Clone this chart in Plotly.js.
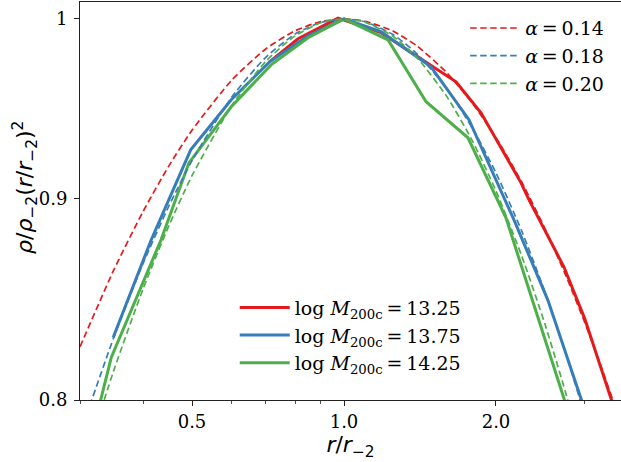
<!DOCTYPE html>
<html>
<head>
<meta charset="utf-8">
<script src="https://cdn.plot.ly/plotly-3.0.1.min.js"></script>
<style>html,body{margin:0;padding:0;background:#fff;}#chart{width:621px;height:462px;}</style>
</head>
<body>
<div id="chart"></div>
<script>
// Einasto reference curves (dashed)
const rFit = [0.30,0.35,0.40,0.45,0.50,0.60,0.70,0.80,0.90,1.0,1.1,1.25,1.4,1.6,1.8,2.0,2.25,2.5,2.75,3.0,3.25,3.5];
const fitA014 = [0.8253,0.8633,0.8934,0.9176,0.9369,0.9650,0.9826,0.9931,0.9985,1.0,0.9987,0.9930,0.9840,0.9689,0.9515,0.9329,0.9088,0.8845,0.8605,0.8370,0.8141,0.7920];
const fitA018 = [0.7842,0.8299,0.8666,0.8963,0.9204,0.9555,0.9778,0.9912,0.9980,1.0,0.9984,0.9910,0.9794,0.9599,0.9376,0.9138,0.8831,0.8523,0.8221,0.7927];
const fitA020 = [0.7650,0.8140,0.8538,0.8860,0.9123,0.9508,0.9755,0.9902,0.9978,1.0,0.9982,0.9899,0.9771,0.9554,0.9306,0.9042,0.8703,0.8364,0.8032,0.7710];

// Measured profiles (solid)
const rM1325 = [0.712,0.811,0.973,1.184,1.667,1.868,2.242,2.325,2.727,3.0,3.379,3.45];
const vM1325 = [0.9752,0.9885,1.0005,0.9920,0.9639,0.9465,0.9085,0.8995,0.8648,0.8388,0.8007,0.7950];
const rM1375 = [0.349,0.415,0.497,0.598,0.712,0.849,1.0,1.184,1.487,1.768,2.171,2.535,2.947,3.0];
const vM1375 = [0.8298,0.8786,0.9262,0.9538,0.9752,0.9902,1.0,0.9926,0.9724,0.9427,0.8890,0.8481,0.8007,0.7950];
const rM1425 = [0.322,0.346,0.434,0.493,0.598,0.717,0.849,1.0,1.222,1.454,1.760,2.093,2.727,2.78];
const vM1425 = [0.7904,0.8202,0.8786,0.9192,0.9499,0.9735,0.9891,1.0,0.9879,0.9527,0.9328,0.8901,0.8007,0.7950];

const fitNames = ['<i>α</i>\u2009=\u20090.14','<i>α</i>\u2009=\u20090.18','<i>α</i>\u2009=\u20090.20'];
const massNames = ['log <i>M</i><sub>200c</sub>\u2009=\u200913.25','log <i>M</i><sub>200c</sub>\u2009=\u200913.75','log <i>M</i><sub>200c</sub>\u2009=\u200914.25'];
const colors = ['#e41a1c','#377eb8','#4daf4a'];

const xTickVals = [0.5,1.0,2.0];
const xTickText = ['0.5','1.0','2.0'];
const xMinorVals = [0.3,0.4,0.6,0.7,0.8,0.9,3.0];
const yTickVals = [0.8,0.9,1.0];
const yTickText = ['0.8','0.9','1'];

const solidR = [rM1325,rM1375,rM1425];
const solidV = [vM1325,vM1375,vM1425];
const fitV = [fitA014,fitA018,fitA020];

const traces = [];
for (let i=0;i<3;i++){
  traces.push({x:solidR[i], y:solidV[i], type:'scatter', mode:'lines', name:massNames[i],
    line:{color:colors[i], width:3}, legend:'legend2'});
}
for (let i=0;i<3;i++){
  traces.push({x:rFit.slice(0,fitV[i].length), y:fitV[i], type:'scatter', mode:'lines', name:fitNames[i],
    line:{color:colors[i], width:1.7, dash:'6.5px,3.5px', shape:'spline', smoothing:0.6}, legend:'legend'});
}

const serif = 'DejaVu Serif, serif';
const layout = {
  width:621, height:462,
  margin:{l:80, r:0, t:2, b:62},
  paper_bgcolor:'#fff', plot_bgcolor:'#fff',
  showlegend:true,
  xaxis:{type:'log', range:[Math.log10(0.3), Math.log10(3.537)],
    tickmode:'array', tickvals:xTickVals, ticktext:xTickText,
    ticks:'outside', ticklen:5, tickwidth:1, tickcolor:'#222',
    minor:{tickmode:'array', tickvals:xMinorVals, ticks:'outside', ticklen:3, tickwidth:0.8, tickcolor:'#222', showgrid:false},
    showgrid:false, zeroline:false, showline:true, linecolor:'#222', linewidth:1, mirror:true,
    tickfont:{family:serif, size:18, color:'#000'},
    title:{text:'<i>r</i>/<i>r</i><sub>−2</sub>', font:{family:'DejaVu Sans, sans-serif', size:22, color:'#000'}, standoff:6}
  },
  yaxis:{type:'log', range:[Math.log10(0.8), Math.log10(1.01)],
    tickmode:'array', tickvals:yTickVals, ticktext:yTickText,
    ticks:'outside', ticklen:5, tickwidth:1, tickcolor:'#222', ticklabelstandoff:3,
    showgrid:false, zeroline:false, showline:true, linecolor:'#222', linewidth:1, mirror:false,
    tickfont:{family:serif, size:18, color:'#000'}
  },
  annotations:[{xref:'paper', yref:'paper', x:-0.102, y:0.535, xanchor:'center', yanchor:'middle',
    textangle:-90, showarrow:false,
    text:'<i>ρ</i>/<i>ρ</i><sub>−2</sub>(<i>r</i>/<i>r</i><sub>−2</sub>)<sup>2</sup>',
    font:{family:'DejaVu Sans, sans-serif', size:22, color:'#000'}}],
  legend:{x:0.712, y:0.982, xanchor:'left', yanchor:'top', bgcolor:'rgba(0,0,0,0)', borderwidth:0,
    font:{family:serif, size:19, color:'#000'}, itemwidth:50},
  legend2:{x:0.286, y:0.280, xanchor:'left', yanchor:'top', bgcolor:'rgba(0,0,0,0)', borderwidth:0,
    font:{family:serif, size:19, color:'#000'}, itemwidth:50}
};
Plotly.newPlot('chart', traces, layout, {displayModeBar:false, staticPlot:true});
</script>
</body>
</html>
